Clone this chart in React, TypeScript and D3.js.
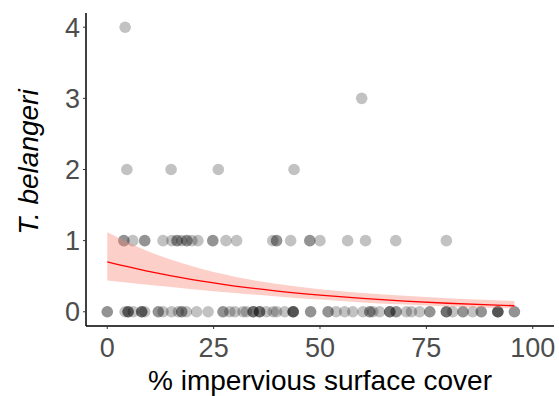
import React from "react";
import * as d3 from "d3";

// Observed counts: each entry is one site (x = % impervious cover)
const count0Sites = [
  0, 0, 4.2, 4.9, 4.9, 4.9, 6.1, 8.1, 8.1, 8.1, 8.8, 12.0, 12.0, 13.1, 15.1, 16.7,
  17.5, 17.5, 18.6, 21.0, 23.7, 27.2, 27.2, 28.8, 30.0, 31.9, 32.7, 34.3, 34.3, 34.3,
  35.8, 35.8, 35.8, 37.4, 39.0, 39.8, 41.7, 43.7, 43.7, 43.7, 43.7, 47.8, 47.8,
  51.9, 51.9, 53.8, 55.8, 57.7, 60.1, 61.7, 61.7, 62.4, 64.0, 66.4, 66.4, 66.4,
  67.9, 67.9, 70.3, 71.5, 73.4, 75.8, 75.8, 79.7, 79.7, 79.7, 81.2, 83.6, 83.6,
  85.9, 87.9, 87.9, 91.8, 91.8, 91.8, 91.8, 95.7, 95.7,
];
const count1Sites = [
  3.9, 3.9, 6.0, 8.8, 8.8, 13.1, 15.2, 16.4, 16.4, 17.5, 18.7, 18.7, 19.9, 21.3,
  24.8, 24.8, 27.9, 30.4, 38.9, 39.8, 39.8, 43.1, 47.6, 47.6, 50.0, 56.5, 60.7,
  67.8, 79.7,
];
const count2Sites = [4.6, 15.0, 26.1, 43.9];
const count3Sites = [59.8];
const count4Sites = [4.2];

// Fitted Poisson curve with its 95% band
const fitX = [0, 10, 20, 30, 40, 50, 60, 70, 80, 90, 95.7];
const fitY = [0.7, 0.563, 0.451, 0.362, 0.29, 0.233, 0.187, 0.15, 0.12, 0.097, 0.085];
const fitLower = [0.438, 0.376, 0.318, 0.265, 0.216, 0.171, 0.132, 0.101, 0.075, 0.057, 0.048];
const fitUpper = [1.119, 0.842, 0.639, 0.493, 0.39, 0.317, 0.264, 0.224, 0.191, 0.166, 0.152];

const xTicks = [0, 25, 50, 75, 100];
const yTicks = [0, 1, 2, 3, 4];

const W = 559;
const H = 396;
const left = 86;
const right = 554;
const top = 13;
const bottom = 326;

export default function App() {
  const x = d3.scaleLinear().domain([-5, 105]).range([left, right]);
  const y = d3.scaleLinear().domain([-0.2, 4.2]).range([bottom, top]);

  const points: { xv: number; yv: number }[] = [];
  [count0Sites, count1Sites, count2Sites, count3Sites, count4Sites].forEach((arr, k) =>
    arr.forEach((v) => points.push({ xv: v, yv: k }))
  );

  const band = fitX.map((v, i) => ({ xv: v, lo: fitLower[i], hi: fitUpper[i], f: fitY[i] }));
  const area = d3
    .area<(typeof band)[number]>()
    .x((d) => x(d.xv))
    .y0((d) => y(d.lo))
    .y1((d) => y(d.hi))
    .curve(d3.curveMonotoneX);
  const line = d3
    .line<(typeof band)[number]>()
    .x((d) => x(d.xv))
    .y((d) => y(d.f))
    .curve(d3.curveMonotoneX);

  const font = "'Liberation Sans', Arial, sans-serif";

  return (
    <svg
      width={W}
      height={H}
      style={{ position: "absolute", left: 0, top: 0, background: "#fff" }}
      fontFamily={font}
    >
      <rect width={W} height={H} fill="#fff" />
      {points.map((p, i) => (
        <circle key={i} cx={x(p.xv)} cy={y(p.yv)} r={5.8} fill="#000" fillOpacity={0.24} />
      ))}
      <path d={area(band) ?? ""} fill="#fa8072" fillOpacity={0.38} />
      <path d={line(band) ?? ""} fill="none" stroke="#ff0000" strokeWidth={1.3} />

      {/* axes */}
      <line x1={left} x2={left} y1={top} y2={bottom} stroke="#000" strokeWidth={1.5} />
      <line x1={left} x2={right} y1={bottom} y2={bottom} stroke="#000" strokeWidth={1.5} />
      {yTicks.map((t) => (
        <g key={"y" + t}>
          <line x1={left - 3} x2={left} y1={y(t)} y2={y(t)} stroke="#333" strokeWidth={1} />
          <text x={left - 6} y={y(t)} dy="0.36em" textAnchor="end" fontSize={27} fill="#4d4d4d">
            {t}
          </text>
        </g>
      ))}
      {xTicks.map((t) => (
        <g key={"x" + t}>
          <line x1={x(t)} x2={x(t)} y1={bottom} y2={bottom + 3} stroke="#333" strokeWidth={1} />
          <text x={x(t)} y={357} textAnchor="middle" fontSize={27} fill="#4d4d4d">
            {t}
          </text>
        </g>
      ))}
      <text x={320} y={390} textAnchor="middle" fontSize={28} fill="#000">
        % impervious surface cover
      </text>
      <text
        transform={`translate(38,162) rotate(-90)`}
        textAnchor="middle"
        fontSize={28}
        fontStyle="italic"
        fill="#000"
      >
        T. belangeri
      </text>
    </svg>
  );
}
